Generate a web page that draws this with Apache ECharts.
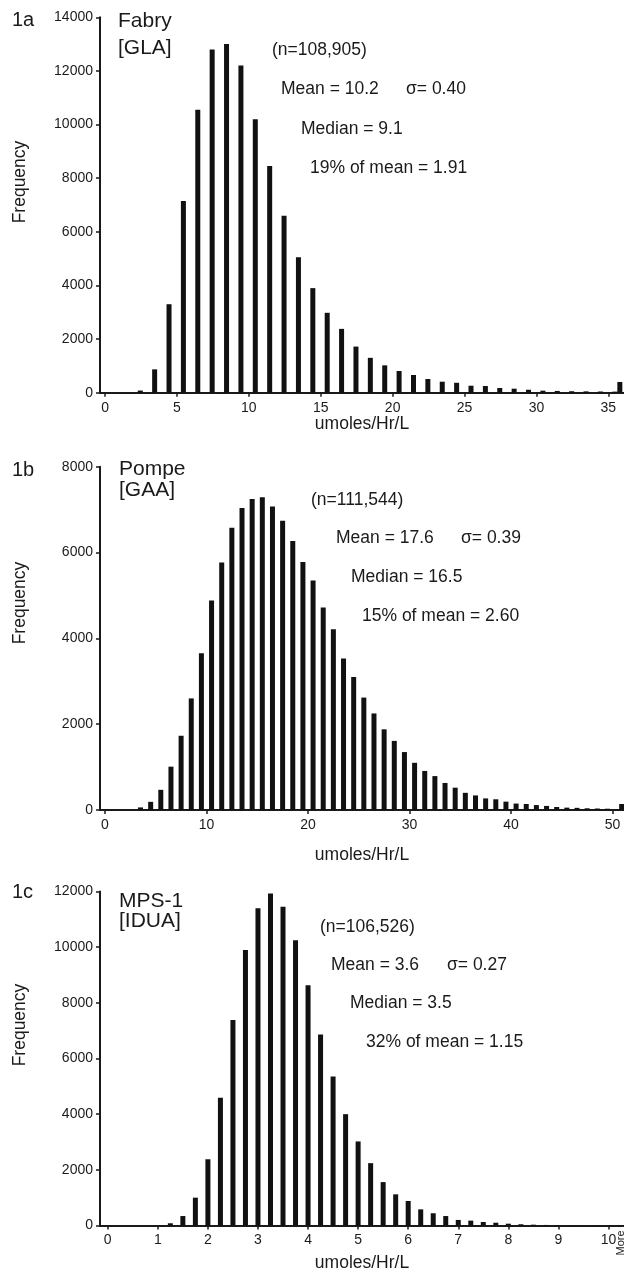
<!DOCTYPE html>
<html lang="en">
<head>
<meta charset="UTF-8">
<script src="https://cdn.jsdelivr.net/npm/echarts@6.0.0/dist/echarts.min.js"></script>
<title>Enzyme activity histograms</title>
<style>
    html, body { margin: 0; padding: 0; background: #fff; }
    #main { width: 624px; height: 1275px; }
</style>
</head>
<body>
<div id="main"></div>
<script type="text/javascript">
    // 1a Fabry [GLA] - bin centres (umoles/Hr/L), last one is the "More" bin
    var fabryBins = [2.45, 3.45, 4.45, 5.45, 6.45, 7.45, 8.45, 9.45, 10.45, 11.45,
        12.45, 13.45, 14.45, 15.45, 16.45, 17.45, 18.45, 19.45, 20.45, 21.45,
        22.45, 23.45, 24.45, 25.45, 26.45, 27.45, 28.45, 29.45, 30.45, 31.45,
        32.45, 33.45, 34.45, 35.45, 35.8];
    var fabryFreq = [80, 870, 3300, 7150, 10550, 12800, 13000, 12200, 10200, 8450,
        6600, 5050, 3900, 2980, 2380, 1720, 1300, 1020, 810, 660,
        510, 410, 370, 260, 250, 175, 150, 110, 75, 65,
        55, 50, 45, 40, 400];
    var fabryTicks = [0, 5, 10, 15, 20, 25, 30, 35];

    // 1b Pompe [GAA]
    var pompeBins = [3.5, 4.5, 5.5, 6.5, 7.5, 8.5, 9.5, 10.5, 11.5, 12.5,
        13.5, 14.5, 15.5, 16.5, 17.5, 18.5, 19.5, 20.5, 21.5, 22.5,
        23.5, 24.5, 25.5, 26.5, 27.5, 28.5, 29.5, 30.5, 31.5, 32.5,
        33.5, 34.5, 35.5, 36.5, 37.5, 38.5, 39.5, 40.5, 41.5, 42.5,
        43.5, 44.5, 45.5, 46.5, 47.5, 48.5, 49.5, 50.9];
    var pompeFreq = [60, 190, 470, 1010, 1730, 2600, 3650, 4880, 5770, 6580,
        7040, 7250, 7290, 7070, 6740, 6270, 5780, 5350, 4720, 4210,
        3530, 3100, 2620, 2250, 1880, 1610, 1350, 1100, 910, 790,
        630, 520, 400, 340, 270, 250, 195, 150, 140, 115,
        95, 70, 55, 50, 40, 35, 30, 140];
    var pompeTicks = [0, 10, 20, 30, 40, 50];

    // 1c MPS-1 [IDUA]
    var mpsBins = [1.25, 1.5, 1.75, 2, 2.25, 2.5, 2.75, 3, 3.25, 3.5,
        3.75, 4, 4.25, 4.5, 4.75, 5, 5.25, 5.5, 5.75, 6,
        6.25, 6.5, 6.75, 7, 7.25, 7.5, 7.75, 8, 8.25, 8.5,
        8.75, 9, 9.25, 9.5, 9.75, 10, 10.24];
    var mpsFreq = [80, 340, 1000, 2380, 4590, 7380, 9900, 11400, 11930, 11450,
        10250, 8630, 6860, 5350, 4000, 3020, 2240, 1560, 1120, 880,
        580, 440, 340, 200, 175, 125, 100, 65, 45, 30,
        20, 15, 10, 10, 8, 5, 10];
    var mpsTicks = [0, 1, 2, 3, 4, 5, 6, 7, 8, 9, 10];

    var FONT = '"Liberation Sans", Arial, sans-serif';
    var INK = '#1a1a1a';

    function pairs(xs, ys) {
        var out = [];
        for (var i = 0; i < xs.length; i++) out.push([xs[i], ys[i]]);
        return out;
    }

    function txt(text, x, y, size, align, rot) {
        return {
            type: 'text', x: x, y: y, rotation: rot || 0, silent: true,
            style: {
                text: text, font: size + 'px ' + FONT, fill: INK,
                textAlign: align || 'left', textVerticalAlign: 'middle'
            }
        };
    }

    function xAxisOf(idx, min, max, ticks, gap) {
        return {
            type: 'value', gridIndex: idx, min: min, max: max,
            name: 'umoles/Hr/L', nameLocation: 'middle', nameGap: gap,
            nameTextStyle: { fontSize: 17.5, color: INK, fontFamily: FONT },
            axisLine: { show: true, onZero: false, lineStyle: { color: INK, width: 2 } },
            axisTick: { show: true, length: 4, customValues: ticks, lineStyle: { color: INK, width: 1.5 } },
            axisLabel: { customValues: ticks, margin: 8, fontSize: 14, color: INK, fontFamily: FONT },
            splitLine: { show: false }
        };
    }

    function yAxisOf(idx, max) {
        return {
            type: 'value', gridIndex: idx, min: 0, max: max, interval: 2000,
            axisLine: { show: true, onZero: false, lineStyle: { color: INK, width: 2 } },
            axisTick: { show: true, length: 4, lineStyle: { color: INK, width: 1.5 } },
            axisLabel: {
                margin: 7, fontSize: 14, color: INK, fontFamily: FONT,
                formatter: function (v) { return String(v); }
            },
            splitLine: { show: false }
        };
    }

    function barsOf(idx, xs, ys) {
        return {
            type: 'bar', xAxisIndex: idx, yAxisIndex: idx,
            data: pairs(xs, ys), barWidth: 5,
            itemStyle: { color: '#111' }, silent: true
        };
    }

    var myChart = echarts.init(document.getElementById('main'), null, { renderer: 'canvas' });

    var option = {
        animation: false,
        backgroundColor: '#fff',
        grid: [
            { left: 100, top: 17.3, width: 524, height: 375.4, outerBoundsMode: 'none' },
            { left: 100, top: 466.7, width: 524, height: 343.3, outerBoundsMode: 'none' },
            { left: 100, top: 891.5, width: 524, height: 334, outerBoundsMode: 'none' }
        ],
        xAxis: [
            xAxisOf(0, -0.35, 36.09, fabryTicks, 22),
            xAxisOf(1, -0.49, 51.13, pompeTicks, 36),
            xAxisOf(2, -0.155, 10.31, mpsTicks, 29)
        ],
        yAxis: [yAxisOf(0, 14000), yAxisOf(1, 8000), yAxisOf(2, 12000)],
        series: [
            barsOf(0, fabryBins, fabryFreq),
            barsOf(1, pompeBins, pompeFreq),
            barsOf(2, mpsBins, mpsFreq)
        ],
        graphic: [
            // panel 1a
            txt('1a', 12, 20, 20),
            txt('Fabry', 118, 21, 21),
            txt('[GLA]', 118, 48, 21),
            txt('Frequency', 20, 182, 17.5, 'center', Math.PI / 2),
            txt('(n=108,905)', 272, 50, 17.5),
            txt('Mean = 10.2', 281, 89, 17.5),
            txt('\u03c3= 0.40', 406, 89, 17.5),
            txt('Median = 9.1', 301, 129, 17.5),
            txt('19% of mean = 1.91', 310, 168, 17.5),
            // panel 1b
            txt('1b', 12, 470, 20),
            txt('Pompe', 119, 469, 21),
            txt('[GAA]', 119, 490, 21),
            txt('Frequency', 20, 603, 17.5, 'center', Math.PI / 2),
            txt('(n=111,544)', 311, 500, 17.5),
            txt('Mean = 17.6', 336, 538, 17.5),
            txt('\u03c3= 0.39', 461, 538, 17.5),
            txt('Median = 16.5', 351, 577, 17.5),
            txt('15% of mean = 2.60', 362, 616, 17.5),
            // panel 1c
            txt('1c', 12, 892, 20),
            txt('MPS-1', 119, 901, 21),
            txt('[IDUA]', 119, 921, 21),
            txt('Frequency', 20, 1025, 17.5, 'center', Math.PI / 2),
            txt('(n=106,526)', 320, 927, 17.5),
            txt('Mean = 3.6', 331, 965, 17.5),
            txt('\u03c3= 0.27', 447, 965, 17.5),
            txt('Median = 3.5', 350, 1003, 17.5),
            txt('32% of mean = 1.15', 366, 1042, 17.5),
            txt('More', 621, 1243, 11, 'center', Math.PI / 2)
        ]
    };
    myChart.setOption(option);
</script>
</body>
</html>
